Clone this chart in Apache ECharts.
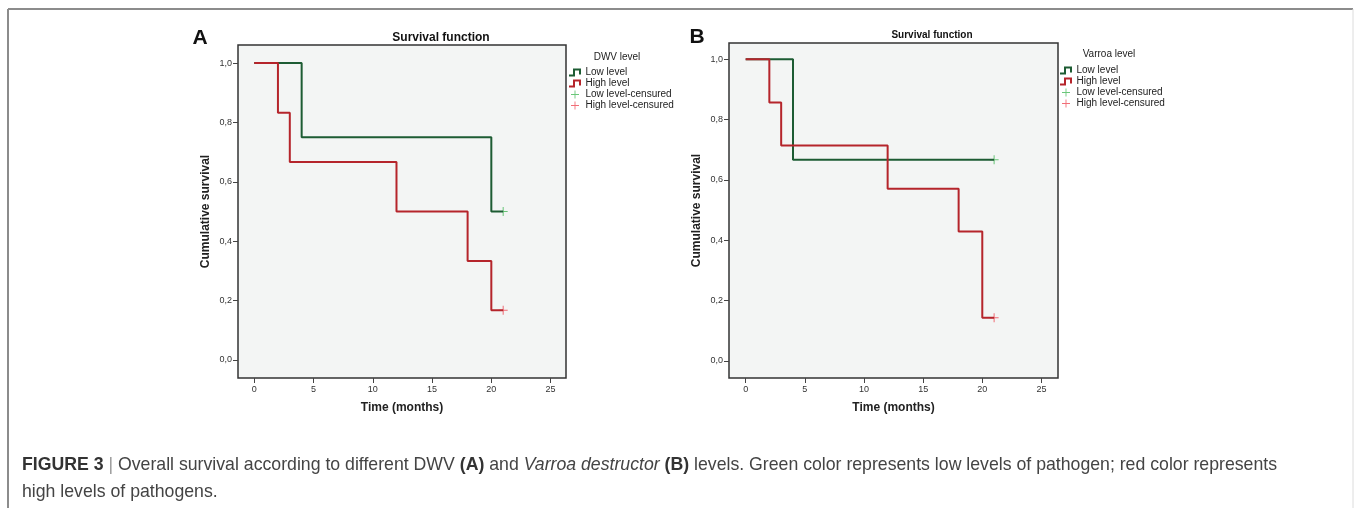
<!DOCTYPE html>
<html>
<head>
<meta charset="utf-8">
<script src="https://cdn.jsdelivr.net/npm/echarts@6/dist/echarts.min.js"></script>
<style>
  html, body { margin: 0; padding: 0; background: #fff; }
  #chart { width: 1354px; height: 508px; }
</style>
</head>
<body>
<div id="chart"></div>
<script>
// panel A: DWV level, panel B: Varroa level (Kaplan-Meier steps)
var lowA = [[0, 1], [4, 0.75], [20, 0.5], [21, 0.5]];
var highA = [[0, 1], [2, 0.833], [3, 0.667], [12, 0.5], [18, 0.333], [20, 0.167], [21, 0.167]];
var lowCensA = [[21, 0.5]];
var highCensA = [[21, 0.167]];

var lowB = [[0, 1], [4, 0.667], [21, 0.667]];
var highB = [[0, 1], [2, 0.857], [3, 0.714], [12, 0.571], [18, 0.429], [20, 0.143], [21, 0.143]];
var lowCensB = [[21, 0.667]];
var highCensB = [[21, 0.143]];

var xTicks = [0, 5, 10, 15, 20, 25];
var yTicks = [0, 0.2, 0.4, 0.6, 0.8, 1.0];
var legendNames = ['Low level', 'High level', 'Low level-censured', 'High level-censured'];

var green = '#1d5c33', red = '#b5252b';
var greenC = '#45b957', redC = '#ee4a55';
var stepIcon = 'path://M0,6h4v-6h8v6h-2v-4h-4v6h-6z';
var plusIcon = 'path://M0,4h9v1h-9z M4,0h1v9h-1z';

var chart = echarts.init(document.getElementById('chart'));

function xAx(idx, min, max) {
  return {
    gridIndex: idx, type: 'value', min: min, max: max,
    name: 'Time (months)', nameLocation: 'middle', nameGap: 24,
    nameTextStyle: { fontFamily: 'Liberation Sans', fontWeight: 'bold', fontSize: 12, color: '#222' },
    axisLine: { show: false, onZero: false },
    axisTick: { show: true, length: 5, customValues: xTicks, lineStyle: { color: '#444' } },
    axisLabel: { customValues: xTicks, fontFamily: 'Liberation Sans', fontSize: 9, color: '#333', margin: 7 },
    splitLine: { show: false }
  };
}
function yAx(idx, min, max) {
  return {
    gridIndex: idx, type: 'value', min: min, max: max,
    name: 'Cumulative survival', nameLocation: 'middle', nameGap: 26,
    nameTextStyle: { fontFamily: 'Liberation Sans', fontWeight: 'bold', fontSize: 12, color: '#222' },
    axisLine: { show: false, onZero: false },
    axisTick: { show: true, length: 5, customValues: yTicks, lineStyle: { color: '#444' } },
    axisLabel: {
      customValues: yTicks, fontFamily: 'Liberation Sans', fontSize: 9, color: '#333', margin: 6,
      formatter: function (v) { return v.toFixed(1).replace('.', ','); }
    },
    splitLine: { show: false }
  };
}
function stepLine(name, data, idx, color) {
  return {
    name: name, type: 'line', step: 'end', data: data, xAxisIndex: idx, yAxisIndex: idx,
    showSymbol: false, color: color, lineStyle: { width: 2, color: color }, animation: false
  };
}
function cens(name, data, idx, color) {
  return {
    name: name, type: 'scatter', data: data, xAxisIndex: idx, yAxisIndex: idx,
    symbol: plusIcon, symbolSize: 9, color: color, itemStyle: { color: color }, animation: false
  };
}
function legendAt(left, top) {
  return {
    orient: 'vertical', left: left, top: top, padding: 0, itemGap: 0,
    itemWidth: 15, itemHeight: 8, selectedMode: false,
    textStyle: { fontFamily: 'Liberation Sans', fontSize: 10, color: '#222', lineHeight: 11, padding: [0, 0, 0, -2] },
    data: [
      { name: legendNames[0], icon: stepIcon },
      { name: legendNames[1], icon: stepIcon },
      { name: legendNames[2], icon: plusIcon },
      { name: legendNames[3], icon: plusIcon }
    ]
  };
}

var caption = '{b|FIGURE 3} {s||} Overall survival according to different DWV {b|(A)} and {i|Varroa destructor} {b|(B)} levels. Green color represents low levels of pathogen; red color represents\nhigh levels of pathogens.';
var capFont = 'Liberation Sans';
var capSize = 17.7;

var option = {
  animation: false,
  grid: [
    { left: 238, top: 45, width: 328, height: 333, show: true, backgroundColor: '#f3f5f4', borderColor: '#333', borderWidth: 1.5 },
    { left: 729, top: 43, width: 329, height: 335, show: true, backgroundColor: '#f3f5f4', borderColor: '#333', borderWidth: 1.5 }
  ],
  xAxis: [xAx(0, -1.37, 26.3), xAx(1, -1.41, 26.4)],
  yAxis: [yAx(0, -0.061, 1.061), yAx(1, -0.057, 1.054)],
  legend: [legendAt(569, 67), legendAt(1060, 65)],
  series: [
    stepLine(legendNames[0], lowA, 0, green),
    stepLine(legendNames[1], highA, 0, red),
    cens(legendNames[2], lowCensA, 0, greenC),
    cens(legendNames[3], highCensA, 0, redC),
    stepLine(legendNames[0], lowB, 1, green),
    stepLine(legendNames[1], highB, 1, red),
    cens(legendNames[2], lowCensB, 1, greenC),
    cens(legendNames[3], highCensB, 1, redC)
  ],
  graphic: [
    { type: 'line', shape: { x1: 8, y1: 9, x2: 1353, y2: 9 }, style: { stroke: '#8c8c8c', lineWidth: 2 }, silent: true },
    { type: 'line', shape: { x1: 8, y1: 9, x2: 8, y2: 508 }, style: { stroke: '#8c8c8c', lineWidth: 2 }, silent: true },
    { type: 'line', shape: { x1: 1353, y1: 9, x2: 1353, y2: 508 }, style: { stroke: '#dcdcdc', lineWidth: 1 }, silent: true },
    { type: 'text', style: { x: 200, y: 38, text: 'A', fontFamily: 'Liberation Sans', fontWeight: 'bold', fontSize: 21, fill: '#111', textAlign: 'center', textVerticalAlign: 'middle' } },
    { type: 'text', style: { x: 697, y: 37, text: 'B', fontFamily: 'Liberation Sans', fontWeight: 'bold', fontSize: 21, fill: '#111', textAlign: 'center', textVerticalAlign: 'middle' } },
    { type: 'text', style: { x: 441, y: 38, text: 'Survival function', fontFamily: 'Liberation Sans', fontWeight: 'bold', fontSize: 12, fill: '#111', textAlign: 'center', textVerticalAlign: 'middle' } },
    { type: 'text', style: { x: 932, y: 35, text: 'Survival function', fontFamily: 'Liberation Sans', fontWeight: 'bold', fontSize: 10, fill: '#111', textAlign: 'center', textVerticalAlign: 'middle' } },
    { type: 'text', style: { x: 617, y: 57, text: 'DWV level', fontFamily: 'Liberation Sans', fontSize: 10, fill: '#222', textAlign: 'center', textVerticalAlign: 'middle' } },
    { type: 'text', style: { x: 1109, y: 54, text: 'Varroa level', fontFamily: 'Liberation Sans', fontSize: 10, fill: '#222', textAlign: 'center', textVerticalAlign: 'middle' } },
    {
      type: 'text',
      style: {
        x: 22, y: 452, text: caption, fontFamily: capFont, fontSize: capSize, lineHeight: 27, fill: '#444',
        rich: {
          b: { fontFamily: capFont, fontWeight: 'bold', fontSize: capSize, lineHeight: 27, fill: '#333' },
          i: { fontFamily: capFont, fontStyle: 'italic', fontSize: capSize, lineHeight: 27, fill: '#444' },
          s: { fontFamily: capFont, fontSize: capSize, lineHeight: 27, fill: '#999' }
        }
      }
    }
  ]
};
chart.setOption(option);
</script>
</body>
</html>
